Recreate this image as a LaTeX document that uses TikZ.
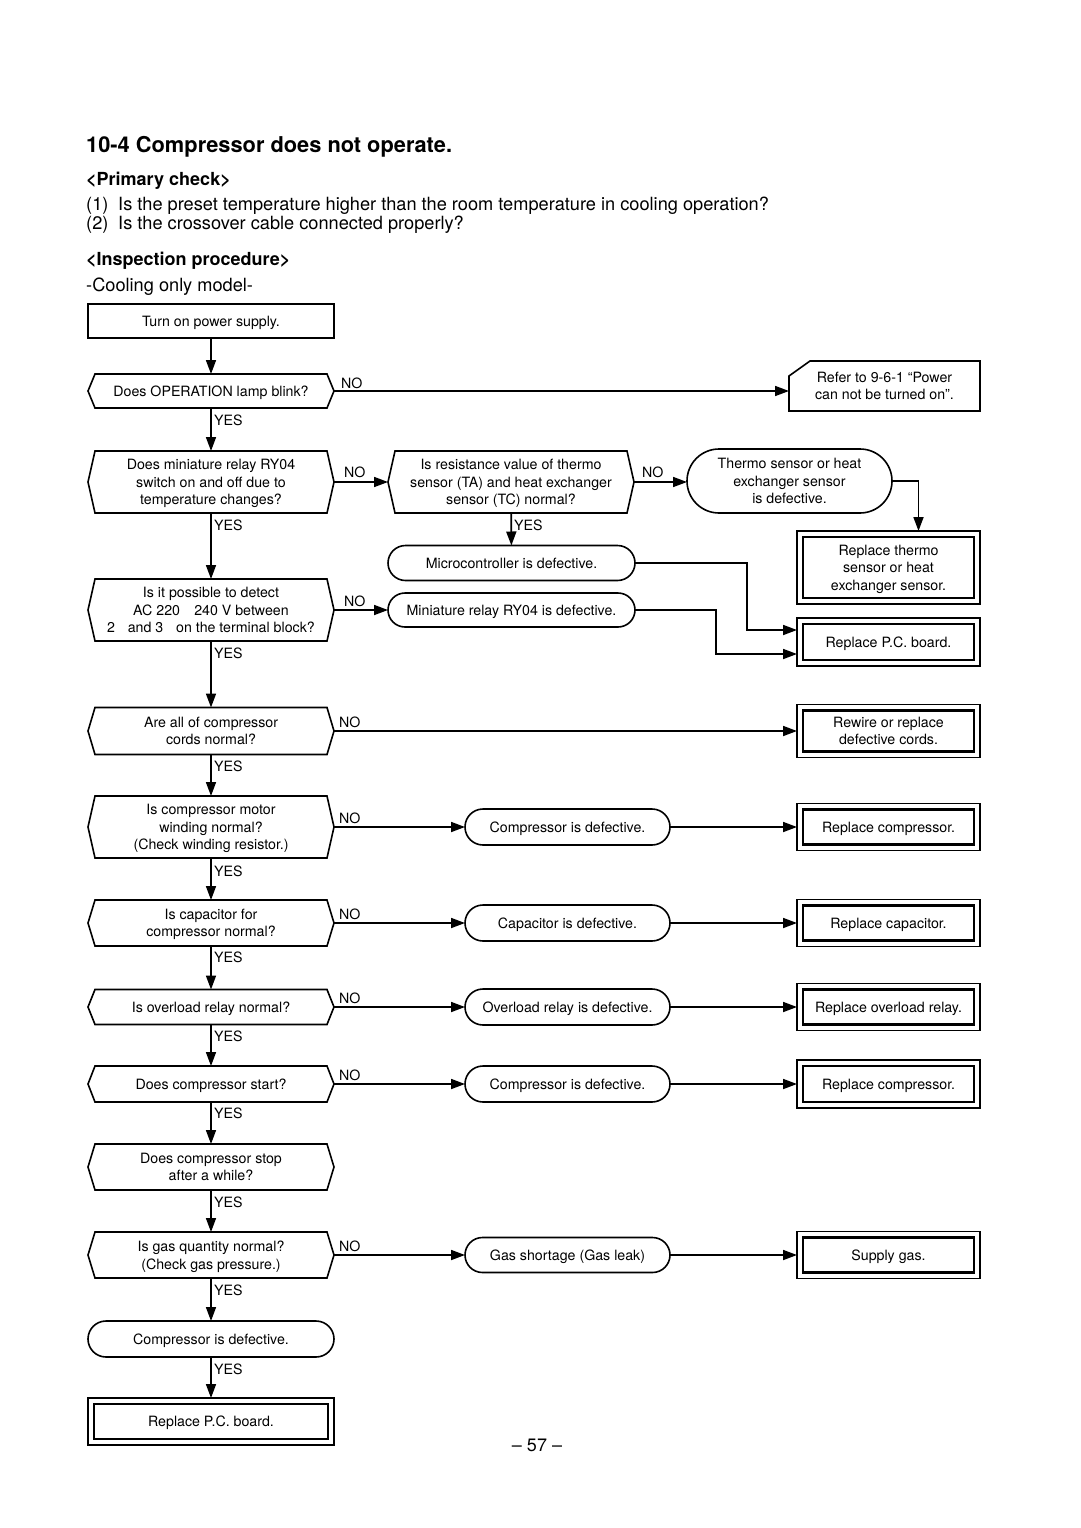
\documentclass[tikz,border=0pt]{standalone}
\usepackage{fontspec}
\setmainfont{TeX Gyre Heros}
\usetikzlibrary{arrows.meta,shapes.misc}
\begin{document}
\begin{tikzpicture}[x=1pt,y=-1pt,
  base/.style={font={\fontsize{14.2}{17.5}\selectfont}, align=center, inner sep=0pt, outer sep=0pt, text depth=0pt},
  dec/.style={base, minimum width=246pt},
  proc/.style={base, draw, line width=1.6pt},
  term/.style={base, draw, line width=1.6pt, rounded rectangle},
  fin/.style={base, draw, line width=1.1pt, minimum width=183pt},
  arr/.style={line width=1.7pt, -{Triangle[length=14pt,width=10pt]}},
  lbl/.style={font={\fontsize{14.2}{17}\selectfont}, inner sep=0pt, anchor=west},
  hdr/.style={font={\fontsize{18.2}{21}\selectfont}, inner sep=0pt, anchor=west},
  hdrb/.style={font={\bfseries\fontsize{18}{21}\selectfont}, inner sep=0pt, anchor=west},
]
\fill[white] (0,0) rectangle (1080,1528);
\useasboundingbox (0,0) rectangle (1080,1528);

% header
\node[font={\bfseries\fontsize{21.8}{26}\selectfont}, inner sep=0pt, anchor=west] (title) at (86,147) {10-4 Compressor does not operate.};
\node[hdrb] (pc) at (86,181) {<Primary check>};
\node[hdr] (n1) at (86,206) {(1)};
\node[hdr] (t1) at (118,206) {Is the preset temperature higher than the room temperature in cooling operation?};
\node[hdr] (n2) at (86,225) {(2)};
\node[hdr] (t2) at (118,225) {Is the crossover cable connected properly?};
\node[hdrb] (ip) at (86,261) {<Inspection procedure>};
\node[hdr] (cool) at (86,287) {-Cooling only model-};
\node[font={\fontsize{18}{21}\selectfont}, inner sep=0pt] (pg) at (537,1445) {– 57 –};

% nodes
\node[proc, minimum width=246pt, minimum height=34pt] (start) at (211,321) {Turn on power supply.};
\node[dec, minimum height=34pt] (q1) at (211,391) {Does OPERATION lamp blink?};
\node[base, minimum width=191pt, minimum height=50pt] (refer) at (884.5,386) {Refer to 9-6-1 “Power\\can not be turned on”.};
\node[dec, minimum height=62pt] (q2) at (211,482) {Does miniature relay RY04\\switch on and off due to\\temperature changes?};
\node[dec, minimum height=62pt] (q3) at (511,482) {Is resistance value of thermo\\sensor (TA) and heat exchanger\\sensor (TC) normal?};
\node[term, minimum width=205pt, minimum height=64pt] (thermo) at (789.5,481) {Thermo sensor or heat\\exchanger sensor\\is defective.};
\node[fin, minimum height=73pt] (rthermo) at (888.5,567.5) {Replace thermo\\sensor or heat\\exchanger sensor.};
\node[term, minimum width=247pt, minimum height=35pt] (micro) at (511.5,563) {Microcontroller is defective.};
\node[dec, minimum height=62pt] (q4) at (211,610) {Is it possible to detect\\AC 220\hspace{1em}240 V between\\2\hspace{0.9em}and 3\hspace{0.9em}on the terminal block?};
\node[term, minimum width=247pt, minimum height=34pt] (relay) at (511.5,610) {Miniature relay RY04 is defective.};
\node[fin, minimum height=48pt] (pcb1) at (888.5,642) {Replace P.C. board.};
\node[dec, minimum height=47pt] (q5) at (211,731) {Are all of compressor\\cords normal?};
\node[fin, minimum height=53pt] (rewire) at (888.5,731) {Rewire or replace\\defective cords.};
\node[dec, minimum height=62pt] (q6) at (211,827) {Is compressor motor\\winding normal?\\(Check winding resistor.)};
\node[term, minimum width=205pt, minimum height=36pt] (comp1) at (567.5,827) {Compressor is defective.};
\node[fin, minimum height=47pt] (rcomp1) at (888.5,827) {Replace compressor.};
\node[dec, minimum height=46pt] (q7) at (211,923) {Is capacitor for\\compressor normal?};
\node[term, minimum width=205pt, minimum height=36pt] (cap) at (567.5,923) {Capacitor is defective.};
\node[fin, minimum height=47pt] (rcap) at (888.5,923) {Replace capacitor.};
\node[dec, minimum height=35pt] (q8) at (211,1007) {Is overload relay normal?};
\node[term, minimum width=205pt, minimum height=36pt] (ol) at (567.5,1007) {Overload relay is defective.};
\node[fin, minimum height=47pt] (rol) at (888.5,1007) {Replace overload relay.};
\node[dec, minimum height=36pt] (q9) at (211,1084) {Does compressor start?};
\node[term, minimum width=205pt, minimum height=36pt] (comp2) at (567.5,1084) {Compressor is defective.};
\node[fin, minimum height=48pt] (rcomp2) at (888.5,1084) {Replace compressor.};
\node[dec, minimum height=46pt] (q10) at (211,1167) {Does compressor stop\\after a while?};
\node[dec, minimum height=46pt] (q11) at (211,1255) {Is gas quantity normal?\\(Check gas pressure.)};
\node[term, minimum width=205pt, minimum height=35pt] (gas) at (567.5,1255) {Gas shortage (Gas leak)};
\node[fin, minimum height=47pt] (supply) at (888.5,1255) {Supply gas.};
\node[term, minimum width=246pt, minimum height=36pt] (comp3) at (211,1339) {Compressor is defective.};
\node[fin, minimum width=246pt, minimum height=47pt] (pcb2) at (211,1421.5) {Replace P.C. board.};

% outlines of decision boxes
\foreach \n in {q1,q2,q3,q4,q5,q6,q7,q8,q9,q10,q11}
  \draw[line width=1.6pt, line join=miter] (\n.west) -- ([xshift=7pt]\n.north west) -- ([xshift=-7pt]\n.north east) -- (\n.east) -- ([xshift=-7pt]\n.south east) -- ([xshift=7pt]\n.south west) -- cycle;
% inner lines of double boxes
\foreach \n in {rthermo,pcb1,rewire,rcomp1,rcap,rol,rcomp2,supply,pcb2}
  \draw[line width=2.4pt] ([shift={(6pt,-6pt)}]\n.north west) rectangle ([shift={(-6pt,6pt)}]\n.south east);
% cut-corner box
\draw[line width=1.6pt] ([yshift=-15pt]refer.north west) -- ([xshift=21pt]refer.north west) -- (refer.north east) -- (refer.south east) -- (refer.south west) -- cycle;

% connectors
\draw[arr] (start) -- (q1);
\draw[arr] (q1.east) -- (q1.east -| refer.west);
\draw[arr] (q1) -- (q2);
\draw[arr] (q2.east) -- (q2.east -| q3.west);
\draw[arr] (q3.east) -- (q3.east -| thermo.west);
\draw[arr] (thermo.east) -| ([xshift=30pt]rthermo.north);
\draw[arr] (q3) -- (micro);
\draw[arr] (micro.east) -- ++(112,0) |- ([yshift=12pt]pcb1.west);
\draw[arr] (q2) -- (q4);
\draw[arr] (q4.east) -- (q4.east -| relay.west);
\draw[arr] (relay.east) -- ++(81,0) |- ([yshift=-12pt]pcb1.west);
\draw[arr] (q4) -- (q5);
\draw[arr] (q5.east) -- (q5.east -| rewire.west);
\draw[arr] (q5) -- (q6);
\draw[arr] (q6.east) -- (q6.east -| comp1.west);
\draw[arr] (comp1.east) -- (comp1.east -| rcomp1.west);
\draw[arr] (q6) -- (q7);
\draw[arr] (q7.east) -- (q7.east -| cap.west);
\draw[arr] (cap.east) -- (cap.east -| rcap.west);
\draw[arr] (q7) -- (q8);
\draw[arr] (q8.east) -- (q8.east -| ol.west);
\draw[arr] (ol.east) -- (ol.east -| rol.west);
\draw[arr] (q8) -- (q9);
\draw[arr] (q9.east) -- (q9.east -| comp2.west);
\draw[arr] (comp2.east) -- (comp2.east -| rcomp2.west);
\draw[arr] (q9) -- (q10);
\draw[arr] (q10) -- (q11);
\draw[arr] (q11.east) -- (q11.east -| gas.west);
\draw[arr] (gas.east) -- (gas.east -| supply.west);
\draw[arr] (q11) -- (comp3);
\draw[arr] (comp3) -- (pcb2);

% labels
\node[lbl] (y1) at (214,420) {YES};
\node[lbl] (y2) at (214,525) {YES};
\node[lbl] (y3) at (514,525) {YES};
\node[lbl] (y4) at (214,653) {YES};
\node[lbl] (y5) at (214,766) {YES};
\node[lbl] (y6) at (214,871) {YES};
\node[lbl] (y7) at (214,957) {YES};
\node[lbl] (y8) at (214,1036) {YES};
\node[lbl] (y9) at (214,1113) {YES};
\node[lbl] (y10) at (214,1202) {YES};
\node[lbl] (y11) at (214,1290) {YES};
\node[lbl] (y12) at (214,1369) {YES};
\node[lbl] (no1) at (341,383) {NO};
\node[lbl] (no2) at (344,472) {NO};
\node[lbl] (no3) at (642,472) {NO};
\node[lbl] (no4) at (344,601) {NO};
\node[lbl] (no5) at (339,722) {NO};
\node[lbl] (no6) at (339,818) {NO};
\node[lbl] (no7) at (339,914) {NO};
\node[lbl] (no8) at (339,998) {NO};
\node[lbl] (no9) at (339,1075) {NO};
\node[lbl] (no11) at (339,1246) {NO};
\end{tikzpicture}
\end{document}
